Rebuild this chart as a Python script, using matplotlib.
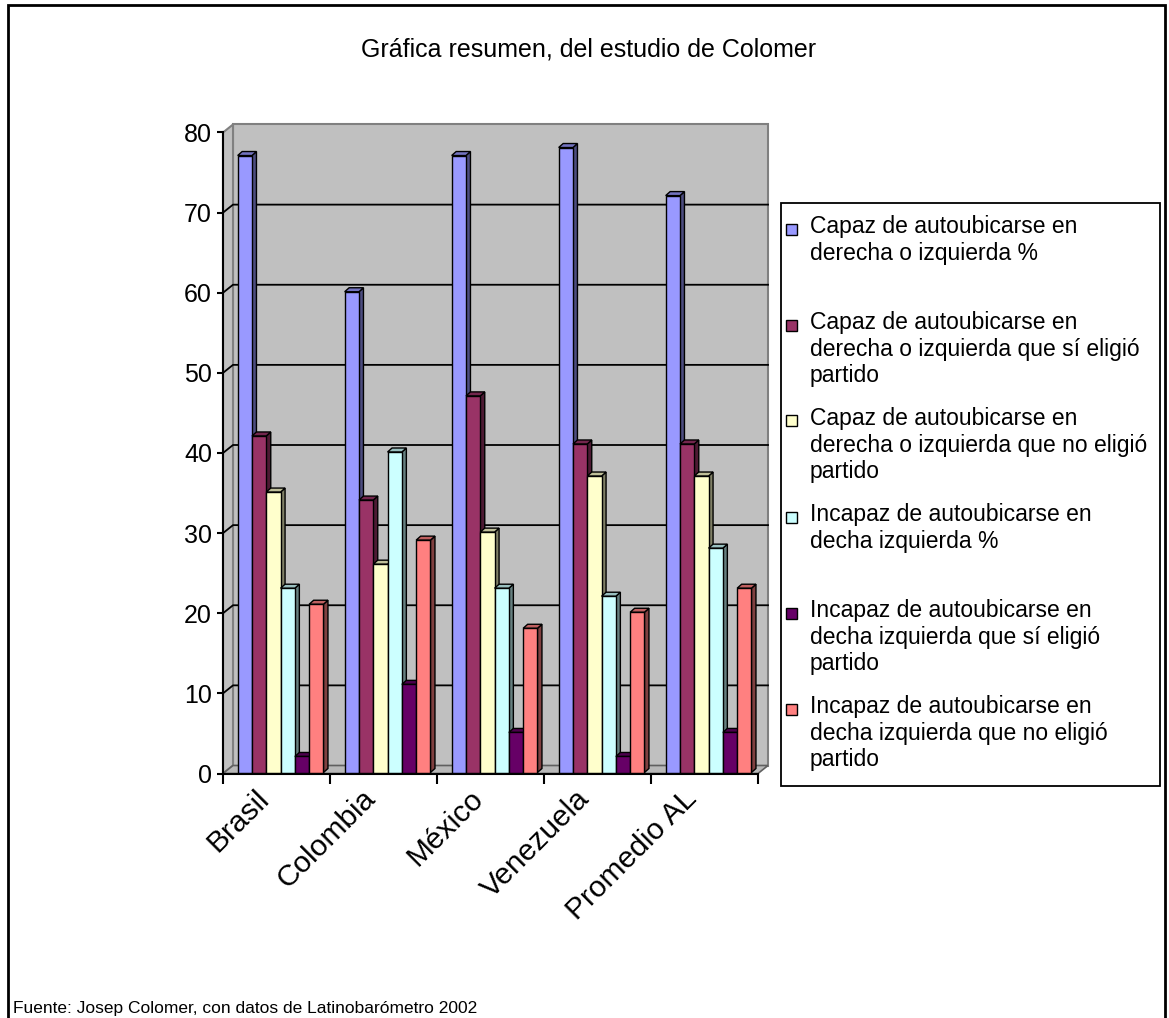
import numpy as np
import matplotlib
matplotlib.use("Agg")
import matplotlib.pyplot as plt
from matplotlib.patches import Polygon, Rectangle
import matplotlib.transforms as mtransforms

plt.rcParams['font.family'] = ['Liberation Sans', 'DejaVu Sans']

# data
countries = ['Brasil', 'Colombia', 'México', 'Venezuela', 'Promedio AL']
series_names = [
    'Capaz de autoubicarse en\nderecha o izquierda %',
    'Capaz de autoubicarse en\nderecha o izquierda que sí eligió\npartido',
    'Capaz de autoubicarse en\nderecha o izquierda que no eligió\npartido',
    'Incapaz de autoubicarse en\ndecha izquierda %',
    'Incapaz de autoubicarse en\ndecha izquierda que sí eligió\npartido',
    'Incapaz de autoubicarse en\ndecha izquierda que no eligió\npartido',
]
capaz = [77, 60, 77, 78, 72]
capaz_si = [42, 34, 47, 41, 41]
capaz_no = [35, 26, 30, 37, 37]
incapaz = [23, 40, 23, 22, 28]
incapaz_si = [2, 11, 5, 2, 5]
incapaz_no = [21, 29, 18, 20, 23]
values = [capaz, capaz_si, capaz_no, incapaz, incapaz_si, incapaz_no]
colors = ['#9999FF', '#993366', '#FFFFCC', '#CCFFFF', '#660066', '#FF8080']

W, H = 1169, 1018
fig = plt.figure(figsize=(W / 100, H / 100), dpi=100)

# plot area in pixels: x 223..758, y(0)=773.5, y(80)=132.5
ax = fig.add_axes([223 / W, (H - 773.5) / H, 535 / W, 641 / H])
ax.set_xlim(0, 5)
ax.set_ylim(0, 80)
ax.set_facecolor('none')

# depth of the box, in data units (10 px right, 8 px up)
px_x = 5 / 535
px_y = 80 / 641
ddx, ddy = 10 * px_x, 8 * px_y

# walls and floor
wall = '#C0C0C0'
ax.add_patch(Polygon([(ddx, ddy), (5 + ddx, ddy), (5 + ddx, 80 + ddy), (ddx, 80 + ddy)],
                     fc=wall, ec='#808080', lw=1.5, zorder=0, clip_on=False))
ax.add_patch(Polygon([(0, 0), (ddx, ddy), (ddx, 80 + ddy), (0, 80)],
                     fc=wall, ec='#808080', lw=1.5, zorder=0, clip_on=False))
ax.add_patch(Polygon([(0, 0), (5, 0), (5 + ddx, ddy), (ddx, ddy)],
                     fc='#B8B8B8', ec='#606060', lw=1.2, zorder=0.5, clip_on=False))
for v in range(10, 80, 10):
    ax.plot([0, ddx, 5 + ddx], [v, v + ddy, v + ddy], color='black', lw=1.3,
            zorder=0.6, clip_on=False)

# 3d bars
bw = 14.3 * px_x
fx, fy = 1 * px_x, 1 * px_y
bdx, bdy = 4.5 * px_x, 4 * px_y
start = 0.137
for i in range(len(countries)):
    for j, vals in enumerate(values):
        h = vals[i]
        x0 = i + start + j * bw
        z = 3 + j * 0.1
        base = np.array(matplotlib.colors.to_rgb(colors[j]))
        ax.bar(x0, h, width=bw, bottom=fy, align='edge', color=colors[j],
               edgecolor='black', lw=1, zorder=z + 0.05, clip_on=False)
        xr = x0 + bw
        ax.add_patch(Polygon([(xr, fy), (xr + bdx, fy + bdy), (xr + bdx, fy + h + bdy), (xr, fy + h)],
                             fc=base * 0.5, ec='black', lw=1, zorder=z, clip_on=False))
        ax.add_patch(Polygon([(x0, fy + h), (xr, fy + h), (xr + bdx, fy + h + bdy), (x0 + bdx, fy + h + bdy)],
                             fc=base * 0.75, ec='black', lw=1, zorder=z, clip_on=False))

# axes
for s in ['top', 'right']:
    ax.spines[s].set_visible(False)
for s in ['left', 'bottom']:
    ax.spines[s].set_color('black')
    ax.spines[s].set_linewidth(1.5)
    ax.spines[s].set_zorder(5)
ax.set_yticks(range(0, 81, 10))
ax.tick_params(axis='y', length=4, width=1.5, labelsize=18, pad=4)
ax.set_xticks(range(0, 6))
ax.set_xticklabels([])
ax.tick_params(axis='x', which='major', length=7.5, width=1.5)
ax.set_xticks(np.arange(5) + 0.5, minor=True)
ax.set_xticklabels(countries, minor=True, rotation=45, ha='right', va='top',
                   rotation_mode='anchor', fontsize=21.5)
ax.tick_params(axis='x', which='minor', length=0, pad=8)
off = mtransforms.ScaledTranslation(-22 / 100, 0, fig.dpi_scale_trans)
for lab in ax.get_xticklabels(minor=True):
    lab.set_transform(lab.get_transform() + off)

# title, footer, border
fig.text(589 / W, 1 - 50 / H, 'Gráfica resumen, del estudio de Colomer', ha='center',
         va='center', fontsize=18)
fig.text(13 / W, 1 - 1008 / H, 'Fuente: Josep Colomer, con datos de Latinobarómetro 2002',
         ha='left', va='center', fontsize=12.5)
fig.add_artist(Rectangle((8 / W, -0.01), (1165 - 8) / W, 1 - 5 / H + 0.01, transform=fig.transFigure,
                         fill=False, ec='black', lw=2))

# legend box
fig.add_artist(Rectangle((781 / W, 1 - 786 / H), (1160 - 781) / W, (786 - 203) / H,
                         transform=fig.transFigure, fill=False, ec='black', lw=1.3))
for k, name in enumerate(series_names):
    ytop = 229 + k * 96
    fig.add_artist(Rectangle((786 / W, 1 - (ytop + 5.5) / H), 11 / W, 11 / H,
                             transform=fig.transFigure, fc=colors[k], ec='black', lw=1))
    fig.text(810 / W, 1 - (ytop - 14) / H, name, ha='left', va='top', fontsize=16.5,
             linespacing=1.2)

fig.savefig('out.png', dpi=100)
